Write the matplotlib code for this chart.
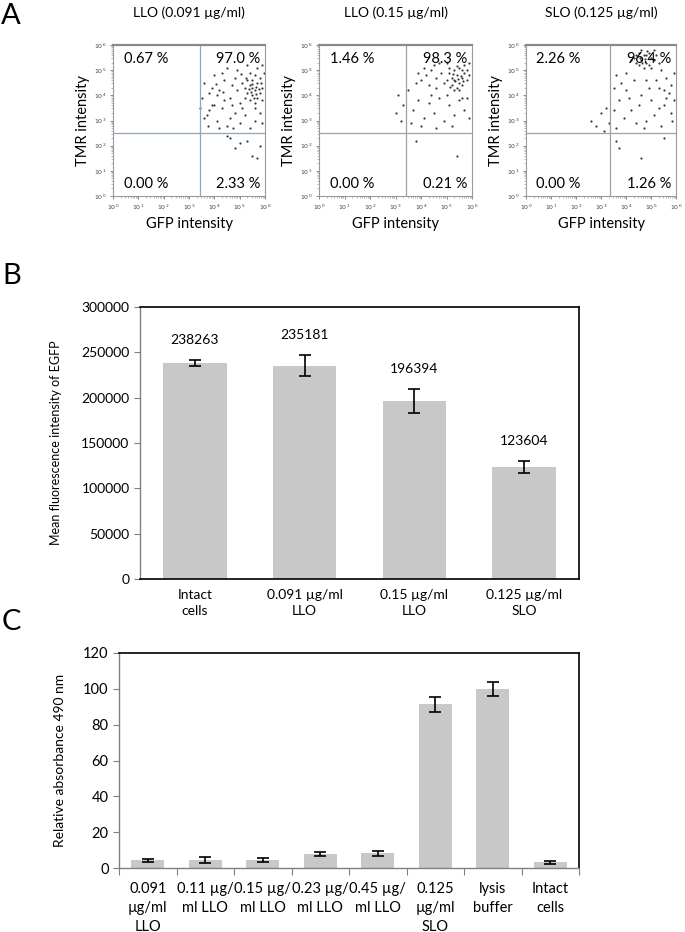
import numpy as np
import matplotlib
matplotlib.use("Agg")
import matplotlib.pyplot as plt
from matplotlib.ticker import LogLocator, NullFormatter

plt.rcParams['font.family'] = ['Lato', 'DejaVu Sans']

# ---- panel A: flow cytometry dots (log10 GFP, log10 TMR) ----
llo091_pts = [
    (5.2, 4.3), (5.3, 4.1), (5.4, 4.4), (5.5, 4.0), (5.6, 4.2), (5.7, 4.5), (5.8, 4.1), (5.5, 4.6),
    (5.4, 3.8), (5.6, 3.7), (5.3, 4.6), (5.7, 3.9), (5.9, 4.3), (5.2, 3.9), (5.5, 4.3), (5.6, 4.8),
    (5.8, 4.7), (5.4, 4.9), (5.1, 4.5), (5.9, 3.8), (5.35, 4.25), (5.45, 4.15), (5.65, 4.35),
    (5.75, 4.25), (5.55, 3.9), (5.25, 4.7), (5.85, 4.5), (5.65, 4.05), (5.5, 4.45), (5.6, 3.5),
    (3.5, 3.9), (3.6, 4.5), (3.7, 3.2), (3.8, 4.1), (3.9, 3.6), (4.0, 4.8), (4.1, 3.0), (4.2, 4.2),
    (4.3, 3.5), (4.4, 4.6), (4.5, 2.8), (4.6, 3.9), (4.7, 4.4), (4.8, 3.3), (4.9, 5.0), (5.0, 3.7),
    (4.1, 4.0), (4.3, 4.9), (3.8, 3.4), (4.6, 3.1), (4.9, 4.2), (5.0, 2.9), (5.2, 3.2), (5.4, 2.7),
    (5.6, 3.0), (5.8, 3.3), (5.9, 2.9), (5.3, 5.2), (5.7, 5.1), (4.5, 5.1), (4.0, 3.6), (4.4, 3.8),
    (4.7, 3.6), (3.6, 3.1), (3.9, 4.3), (4.2, 2.7), (4.8, 4.7), (5.1, 3.5), (5.95, 4.9), (5.9, 5.2),
    (3.45, 3.5), (4.05, 4.45), (4.35, 4.15), (4.75, 2.7), (5.05, 4.85), (3.75, 2.8),
    (4.6, 2.3), (4.8, 1.9), (5.0, 2.1), (5.3, 2.2), (5.5, 1.6), (5.7, 1.5), (5.8, 2.0), (4.5, 2.4),
]
llo015_pts = [
    (5.3, 4.6), (5.4, 4.8), (5.2, 4.4), (5.5, 4.5), (5.6, 4.7), (5.1, 4.9), (5.3, 5.0), (5.7, 4.9),
    (5.4, 4.3), (5.6, 4.4), (5.2, 4.7), (5.5, 5.1), (5.0, 4.6), (5.8, 4.6), (5.35, 4.55), (5.45, 4.65),
    (5.25, 4.85), (5.55, 4.75), (5.65, 4.55), (5.15, 4.35), (5.5, 4.2), (5.4, 5.15), (5.7, 5.2),
    (5.1, 5.1), (5.3, 4.2), (5.6, 5.0), (5.8, 5.0), (5.9, 4.8),
    (4.2, 4.8), (4.4, 5.0), (4.6, 4.7), (4.0, 4.6), (4.8, 4.9), (3.8, 4.5), (4.5, 5.2), (4.3, 4.4),
    (4.7, 5.3), (4.9, 4.5), (3.9, 4.9), (4.1, 5.1), (5.0, 5.3), (4.6, 4.3), (5.9, 5.3),
    (3.3, 3.6), (3.2, 3.0), (3.5, 4.2), (3.7, 3.4), (3.9, 3.8), (4.1, 3.1), (4.3, 3.7), (4.5, 3.3),
    (4.7, 3.9), (4.9, 3.0), (5.1, 3.6), (5.3, 3.2), (5.5, 3.8), (5.7, 3.4), (5.9, 3.1), (4.0, 2.8),
    (4.6, 2.7), (5.2, 2.8), (5.8, 3.9), (3.0, 3.3), (3.1, 4.0), (3.6, 2.9), (4.4, 4.0), (5.0, 4.0),
    (5.6, 3.9), (3.8, 2.2), (5.4, 1.6),
]
slo0125_pts = [
    (4.3, 5.5), (4.5, 5.7), (4.6, 5.4), (4.7, 5.6), (4.8, 5.3), (4.9, 5.7), (5.0, 5.5), (4.4, 5.3),
    (4.6, 5.8), (4.8, 5.6), (4.5, 5.2), (5.1, 5.4), (4.7, 5.1), (4.9, 5.2), (4.2, 5.4), (5.2, 5.6),
    (4.55, 5.5), (4.75, 5.45), (4.85, 5.75), (4.65, 5.3), (5.0, 5.1), (5.3, 5.3), (4.4, 5.6), (5.1, 5.8),
    (3.6, 4.8), (3.8, 4.5), (4.0, 4.9), (5.4, 5.0), (5.6, 4.7), (5.8, 4.4), (5.9, 4.9), (5.5, 4.2),
    (5.2, 4.6), (4.9, 4.3), (4.6, 4.0), (4.3, 4.6), (4.1, 3.9), (3.7, 3.8), (3.5, 3.4), (3.9, 3.1),
    (4.2, 3.4), (4.5, 3.6), (4.8, 3.0), (5.0, 3.8), (5.3, 3.5), (5.6, 3.9), (5.8, 3.3), (5.9, 3.8),
    (5.1, 3.2), (4.4, 2.9), (4.7, 2.7), (5.4, 2.8), (3.6, 2.7), (5.7, 4.1), (5.5, 3.6), (5.85, 3.0),
    (4.0, 4.2), (3.5, 4.3), (5.3, 4.3), (4.8, 4.6),
    (2.6, 3.0), (2.8, 2.8), (3.0, 3.3), (3.1, 2.6), (3.2, 3.5), (3.3, 2.9),
    (3.6, 2.2), (3.7, 1.9), (4.6, 1.5), (5.5, 2.3),
]
scatter_titles = ["LLO (0.091 µg/ml)", "LLO (0.15 µg/ml)", "SLO (0.125 µg/ml)"]
quad_pcts = [["0.67 %", "97.0 %", "0.00 %", "2.33 %"],
             ["1.46 %", "98.3 %", "0.00 %", "0.21 %"],
             ["2.26 %", "96.4 %", "0.00 %", "1.26 %"]]
gate_x = [10 ** 3.43, 10 ** 3.4, 10 ** 3.36]
gate_y = 10 ** 2.5

# ---- panel B ----
b_labels = ["Intact\ncells", "0.091 µg/ml\nLLO", "0.15 µg/ml\nLLO", "0.125 µg/ml\nSLO"]
b_values = [238263, 235181, 196394, 123604]
b_err = [3500, 11500, 13000, 7000]

# ---- panel C ----
c_labels = ["0.091\nµg/ml\nLLO", "0.11 µg/\nml LLO", "0.15 µg/\nml LLO", "0.23 µg/\nml LLO",
            "0.45 µg/\nml LLO", "0.125\nµg/ml\nSLO", "lysis\nbuffer", "Intact\ncells"]
c_values = [4.2, 4.4, 4.5, 7.8, 8.2, 91.5, 100.0, 3.2]
c_err = [1.1, 1.8, 1.0, 1.0, 1.5, 4.2, 4.0, 0.7]

W, H = 685, 932
BAR = "#c8c8c8"


def box(l, t, r, b):
    return [l / W, 1 - b / H, (r - l) / W, (b - t) / H]


fig = plt.figure(figsize=(W / 100, H / 100), dpi=100)

# panel letters
fig.text(11 / W, 1 - 16 / H, "A", fontsize=21, ha="center", va="center")
fig.text(12 / W, 1 - 276 / H, "B", fontsize=21, ha="center", va="center")
fig.text(11 / W, 1 - 622 / H, "C", fontsize=21, ha="center", va="center")

# ---- A ----
scatter_boxes = [(113, 45, 265, 196), (319, 45, 472, 196), (526, 45, 676, 196)]
gate_cols = ["#8fa5ba", "#a0a0a0", "#a0a0a0"]
for i, pts in enumerate([llo091_pts, llo015_pts, slo0125_pts]):
    l, t, r, b = scatter_boxes[i]
    ax = fig.add_axes(box(l, t, r, b))
    xs = [10 ** p[0] for p in pts]
    ys = [10 ** p[1] for p in pts]
    ax.scatter(xs, ys, s=2.5, c="#3a3a3a", linewidths=0)
    ax.set_xscale("log")
    ax.set_yscale("log")
    ax.set_xlim(1, 1e6)
    ax.set_ylim(1, 1e6)
    ax.axvline(gate_x[i], color=gate_cols[i], lw=0.9)
    ax.axhline(gate_y, color=gate_cols[i], lw=0.9)
    for s in ax.spines.values():
        s.set_color("#9a9a9a")
        s.set_linewidth(0.8)
    ax.spines["top"].set_linewidth(1.6)
    ax.spines["top"].set_color("#8a8a8a")
    ticks = [10 ** k for k in range(7)]
    ax.set_xticks(ticks)
    ax.set_yticks(ticks)
    ax.set_xticklabels([f"$10^{k}$" for k in range(7)])
    ax.set_yticklabels([f"$10^{k}$" for k in range(7)])
    for axis in (ax.xaxis, ax.yaxis):
        axis.set_minor_locator(LogLocator(base=10, subs=np.arange(2, 10), numticks=20))
        axis.set_minor_formatter(NullFormatter())
    ax.tick_params(which="major", labelsize=4.5, length=2.5, width=0.6, color="#777777",
                   labelcolor="#444444", pad=2)
    ax.tick_params(which="minor", length=1.3, width=0.4, color="#888888")
    ax.set_xlabel("GFP intensity", fontsize=10.5, labelpad=4)
    ax.set_ylabel("TMR intensity", fontsize=10.5, labelpad=3)
    p = quad_pcts[i]
    ax.text(0.07, 0.955, p[0], transform=ax.transAxes, fontsize=10.5, va="top", ha="left")
    ax.text(0.97, 0.955, p[1], transform=ax.transAxes, fontsize=10.5, va="top", ha="right")
    ax.text(0.07, 0.03, p[2], transform=ax.transAxes, fontsize=10.5, va="bottom", ha="left")
    ax.text(0.97, 0.03, p[3], transform=ax.transAxes, fontsize=10.5, va="bottom", ha="right")
    fig.text(((l + r) / 2) / W, 1 - 13 / H, scatter_titles[i], fontsize=10,
             ha="center", va="center")

# ---- B ----
axb = fig.add_axes(box(140, 307, 579, 579))
xb = np.arange(len(b_values))
axb.bar(xb, b_values, width=0.58, color=BAR, zorder=2)
axb.errorbar(xb, b_values, yerr=b_err, fmt="none", ecolor="black", elinewidth=1.2,
             capsize=4.5, capthick=1.2, zorder=3)
for xi, v, e in zip(xb, b_values, b_err):
    axb.text(xi, v + e + 22000, str(v), ha="center", va="center", fontsize=10)
axb.set_xlim(-0.5, len(b_values) - 0.5)
axb.set_ylim(0, 300000)
axb.set_yticks(np.arange(0, 300001, 50000))
axb.set_xticks(xb)
axb.set_xticklabels(b_labels, fontsize=10, linespacing=1.45)
axb.tick_params(axis="x", length=0, pad=7)
axb.tick_params(axis="y", labelsize=10, length=4, width=0.8, color="#808080", direction="out")
axb.set_ylabel("Mean fluorescence intensity of EGFP", fontsize=9, labelpad=14)
for side, s in axb.spines.items():
    s.set_color("black")
    s.set_linewidth(1.2)
axb.spines["left"].set_color("#808080")
axb.spines["left"].set_linewidth(1.0)

# ---- C ----
axc = fig.add_axes(box(119, 653, 579, 868))
xc = np.arange(len(c_values))
axc.bar(xc, c_values, width=0.58, color=BAR, zorder=2)
axc.errorbar(xc, c_values, yerr=c_err, fmt="none", ecolor="black", elinewidth=1.2,
             capsize=4, capthick=1.2, zorder=3)
axc.set_xlim(-0.5, len(c_values) - 0.5)
axc.set_ylim(0, 120)
axc.set_yticks(np.arange(0, 121, 20))
axc.set_xticks(xc)
axc.set_xticklabels(c_labels, fontsize=10.5, linespacing=1.45)
axc.set_xticks(np.arange(-0.5, len(c_values), 1.0), minor=True)
axc.tick_params(axis="x", which="major", length=0, pad=10)
axc.tick_params(axis="x", which="minor", length=5, width=0.8, color="#808080", direction="out")
axc.tick_params(axis="y", labelsize=10.5, length=4, width=0.8, color="#808080", direction="out")
axc.set_ylabel("Relative absorbance 490 nm", fontsize=10, labelpad=12)
for side, s in axc.spines.items():
    s.set_color("black")
    s.set_linewidth(1.2)
axc.spines["left"].set_color("#808080")
axc.spines["left"].set_linewidth(1.0)
axc.spines["bottom"].set_color("#808080")
axc.spines["bottom"].set_linewidth(1.0)

fig.savefig("out.png", dpi=100)
